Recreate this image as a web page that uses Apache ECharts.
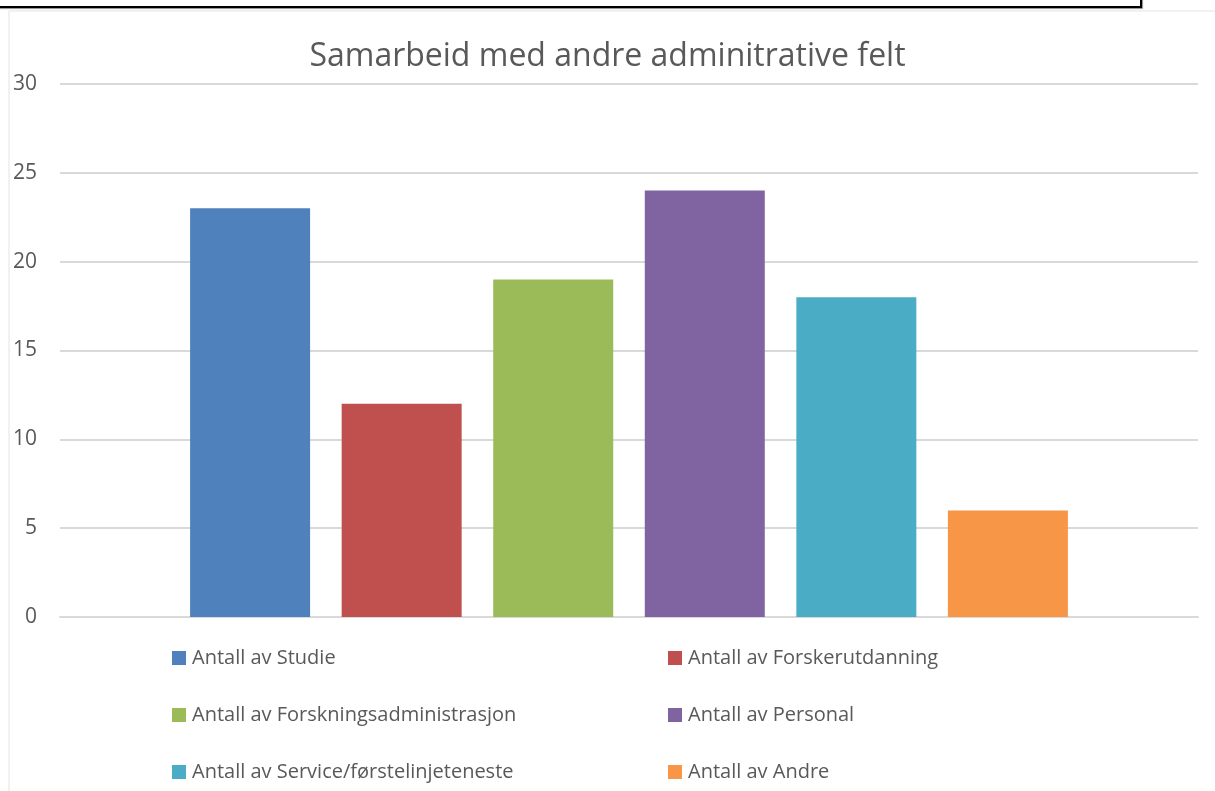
<!DOCTYPE html>
<html>
<head>
<meta charset="utf-8">
<script src="https://cdn.jsdelivr.net/npm/echarts@6/dist/echarts.min.js"></script>
<style>
  html, body { margin: 0; padding: 0; background: #fff; }
  #chart { width: 1215px; height: 791px; }
</style>
</head>
<body>
<div id="chart"></div>
<script>
const seriesNames = [
  'Antall av Studie',
  'Antall av Forskerutdanning',
  'Antall av Forskningsadministrasjon',
  'Antall av Personal',
  'Antall av Service/førstelinjeteneste',
  'Antall av Andre'
];
const seriesValues = [23, 12, 19, 24, 18, 6];
const colors = ['#4F81BD', '#C0504D', '#9BBB59', '#8064A2', '#4BACC6', '#F79646'];
const yTicks = { min: 0, max: 30, step: 5 };

const fontFamily = 'Open Sans, sans-serif';
const chart = echarts.init(document.getElementById('chart'));

chart.setOption({
  animation: false,
  title: {
    text: 'Samarbeid med andre adminitrative felt',
    left: 'center',
    top: 36,
    textStyle: {
      color: '#595959',
      fontFamily: fontFamily,
      fontWeight: 'normal',
      fontSize: 32
    }
  },
  grid: { left: 60, right: 17, top: 84, bottom: 174 },
  xAxis: {
    type: 'category',
    data: [''],
    axisLine: { lineStyle: { color: '#d9d9d9', width: 2 } },
    axisTick: { show: false },
    axisLabel: { show: false }
  },
  yAxis: {
    type: 'value',
    min: yTicks.min,
    max: yTicks.max,
    interval: yTicks.step,
    axisLine: { show: false },
    axisTick: { show: false },
    splitLine: { lineStyle: { color: '#d9d9d9', width: 2 } },
    axisLabel: {
      color: '#595959',
      fontFamily: fontFamily,
      fontSize: 21,
      margin: 23
    }
  },
  legend: {
    left: 167,
    top: 641,
    width: 1000,
    itemWidth: 14,
    itemHeight: 14,
    itemGap: 33,
    icon: 'rect',
    data: seriesNames,
    textStyle: {
      color: '#595959',
      fontFamily: fontFamily,
      fontSize: 20,
      width: 443,
      lineHeight: 24,
      padding: [0, 0, 0, 1]
    }
  },
  graphic: [
    { type: 'rect', shape: { x: -5, y: -10, width: 1146, height: 17 }, style: { fill: '#fff', stroke: '#000', lineWidth: 2, shadowColor: 'rgba(0,0,0,0.4)', shadowOffsetX: 1, shadowOffsetY: 1, shadowBlur: 1 } },
    { type: 'line', shape: { x1: 9, y1: 11, x2: 1215, y2: 11 }, style: { stroke: '#e3e3e3', lineWidth: 1 } },
    { type: 'line', shape: { x1: 9, y1: 11, x2: 9, y2: 791 }, style: { stroke: '#e3e3e3', lineWidth: 1 } }
  ],
  series: seriesNames.map((name, i) => ({
    name: name,
    type: 'bar',
    data: [seriesValues[i]],
    barWidth: 120,
    barGap: '26.3%',
    itemStyle: { color: colors[i] }
  }))
});
</script>
</body>
</html>
